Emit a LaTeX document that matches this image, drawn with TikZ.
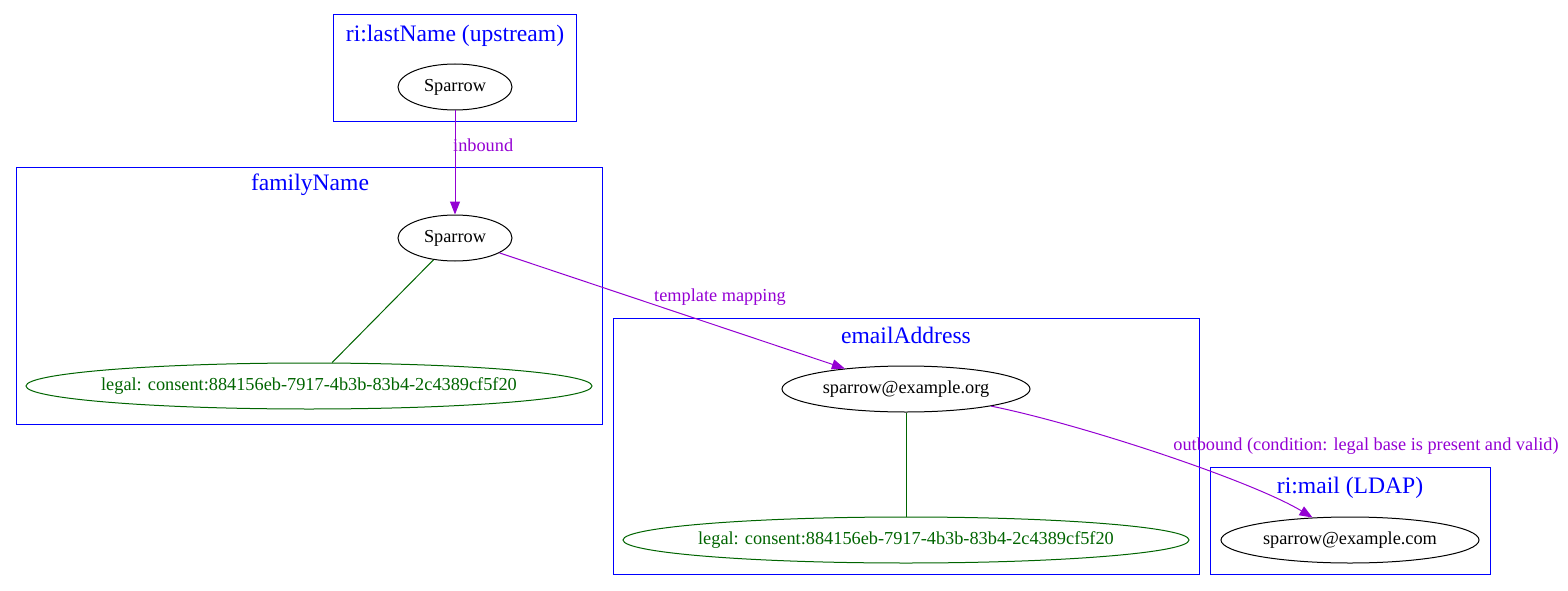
\documentclass[tikz,border=0pt]{standalone}
\usepackage{fontspec}
\setmainfont{Liberation Serif}
\usetikzlibrary{shapes.geometric,arrows.meta}
\definecolor{gvpurple}{HTML}{9400D3}
\definecolor{gvgreen}{HTML}{006400}
\definecolor{gvblue}{HTML}{0000FF}
\newcommand{\narrowbox}[1]{\makebox[360pt][c]{#1}}
\tikzset{
  cluster/.style={draw=gvblue,line width=1pt},
  clabel/.style={text=gvblue,font=\fontsize{23.6}{28}\selectfont,inner sep=0pt},
  val/.style={draw=black,ellipse,line width=1pt,inner sep=0pt,minimum height=46pt,font=\fontsize{18.3}{22}\selectfont},
  legal/.style={draw=gvgreen,text=gvgreen,ellipse,line width=1pt,inner sep=0pt,minimum height=46pt,minimum width=566pt,font=\fontsize{18.3}{22}\selectfont},
  flow/.style={draw=gvpurple,line width=1pt,-{Triangle[length=13pt,width=10pt]},fill=none},
  flowlabel/.style={text=gvpurple,font=\fontsize{18.3}{22}\selectfont,inner sep=0pt},
  legallink/.style={draw=gvgreen,line width=1pt},
}
\begin{document}
\begin{tikzpicture}[x=1pt,y=-1pt]
\useasboundingbox (0,0) rectangle (1568,591);
% clusters
\draw[cluster] (333,15) rectangle (576,122);
\node[clabel] (c1) at (455,36) {ri:lastName (upstream)};
\draw[cluster] (16,167) rectangle (602,424);
\node[clabel] (c2) at (310,185) {familyName};
\draw[cluster] (613,318) rectangle (1199,574);
\node[clabel] (c3) at (906,335) {emailAddress};
\draw[cluster] (1210,467) rectangle (1490,574);
\node[clabel] (c4) at (1350,488) {ri:mail (LDAP)};
% nodes
\node[val,minimum width=114pt] (s1) at (455,87) {Sparrow};
\node[val,minimum width=114pt] (s2) at (455,238) {Sparrow};
\node[legal] (l1) at (309,386) {\narrowbox{legal: consent:884156eb-7917-4b3b-83b4-2c4389cf5f20}};
\node[val,minimum width=248pt] (e1) at (906,389) {sparrow@example.org};
\node[legal] (l2) at (906,540) {\narrowbox{legal: consent:884156eb-7917-4b3b-83b4-2c4389cf5f20}};
\node[val,minimum width=258pt] (e2) at (1350,540) {sparrow@example.com};
% connectors
\draw[flow] (s1) -- (s2);
\node[flowlabel,anchor=west] (lin) at (453,145) {inbound};
\draw[flow] (s2) -- (e1);
\node[flowlabel] (ltm) at (720,297) {template mapping};
\draw[legallink] (s2) -- (l1);
\draw[legallink] (e1) -- (l2);
\draw[flow] (e1) .. controls (1080,424) and (1250,480) .. (e2);
\node[flowlabel] (lout) at (1366,446) {outbound (condition: legal base is present and valid)};
\end{tikzpicture}
\end{document}
